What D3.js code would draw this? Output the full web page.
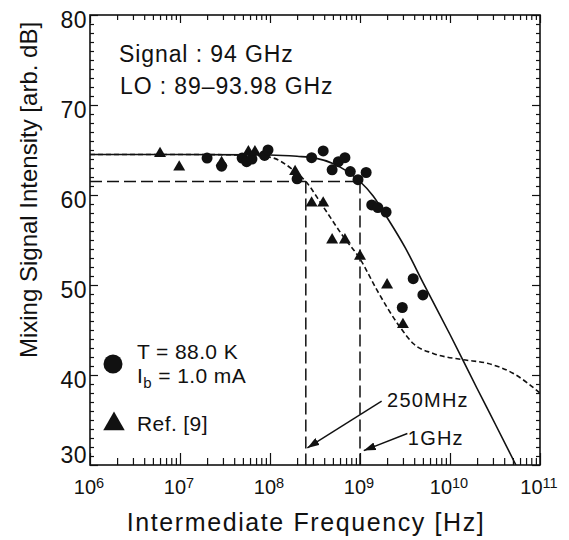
<!DOCTYPE html>
<html><head><meta charset="utf-8">
<script src="https://cdn.jsdelivr.net/npm/d3@7"></script>
<style>
body{margin:0;background:#fff}
svg{display:block}
text{font-family:"Liberation Sans",Arial,Helvetica,sans-serif;fill:#111}
</style>
</head><body>
<svg id="c" width="569" height="540"></svg>
<script>
// ---- data (frequency in Hz, signal in dB) ----
const circleFreq = [2.0e7,2.9e7,4.9e7,5.5e7,6.3e7,8.7e7,9.5e7,2.0e8,2.9e8,3.9e8,4.9e8,5.75e8,6.8e8,7.8e8,9.5e8,1.17e9,1.35e9,1.58e9,1.95e9,2.95e9,3.9e9,5.0e9];
const circleDB   = [64.1,63.2,64.1,63.7,64.0,64.4,65.0,61.8,64.15,64.9,62.8,63.7,64.15,62.6,61.7,62.5,58.9,58.6,58.1,47.5,50.7,48.9];
const triFreq = [6.0e6,9.8e6,2.9e7,5.75e7,6.8e7,1.9e8,2.9e8,3.9e8,4.9e8,6.8e8,1.0e9,2.0e9,3.0e9];
const triDB   = [64.6,63.1,63.6,64.8,64.8,62.6,59.1,59.1,55.0,55.0,53.2,50.0,45.6];
const solidFreq = [1e6,1e7,1e8,2e8,3.2e8,5e8,7e8,1e9,1.4e9,2e9,3.2e9,5e9,1e10,2e10,3.2e10,5.4e10];
const solidDB   = [64.5,64.5,64.45,64.3,64.1,63.5,62.7,61.5,59.9,57.5,54.1,50.3,44.5,38.5,34.5,30.0];
const dashFreq = [1e6,1e7,5e7,1e8,1.8e8,2.5e8,3.9e8,6.5e8,1e9,1.55e9,2.75e9,3.9e9,6.5e9,1.4e10,2.6e10,5e10,1e11];
const dashDB   = [64.5,64.5,64.45,64.2,62.8,61.5,58.7,55.4,52.9,49.4,45.4,43.5,42.4,41.7,41.3,40.2,38.0];
const cutoffFreq = [2.5e8,1e9];
const cutoffDB = 61.5;
const xTickExps = [6,7,8,9,10,11];
const yTicks = [30,40,50,60,70,80];
const arrowLabels = ["250MHz","1GHz"];
const arrowFrom = [[1.74e9,37.1],[3.36e9,33.5]];
const arrowTo   = [[2.6e8,31.9],[1.1e9,31.6]];
const arrowText = [[2.0e9,36.4],[3.4e9,32.2]];

// ---- scales ----
const svg = d3.select("#c");
const x = d3.scaleLog().domain([1e6,1e11]).range([90,540]);
const y = d3.scaleLinear().domain([30,80]).range([465,15]);

svg.append("defs").append("clipPath").attr("id","clip")
  .append("rect").attr("x",90).attr("y",15).attr("width",450).attr("height",450);
const mk = svg.select("defs").append("marker").attr("id","arr")
  .attr("viewBox","0 0 12 8").attr("refX",12).attr("refY",4)
  .attr("markerWidth",12).attr("markerHeight",8).attr("markerUnits","userSpaceOnUse")
  .attr("orient","auto");
mk.append("path").attr("d","M0,0L12,4L0,8Z").attr("fill","#111");

// ---- axes ----
const minorX = [];
for (let e=6;e<11;e++) for (let m=2;m<=9;m++) minorX.push(m*Math.pow(10,e));
const majorX = xTickExps.map(e=>Math.pow(10,e));
const minorY = d3.range(30,81,1).filter(v=>v%10!==0);

function styleAxis(g){ g.select(".domain").remove(); g.selectAll("line").attr("stroke","#111").attr("stroke-width",1.2); }
svg.append("g").attr("transform","translate(0,465)").call(d3.axisBottom(x).tickValues(minorX).tickSize(-7).tickFormat("")).call(styleAxis);
svg.append("g").attr("transform","translate(0,465)").call(d3.axisBottom(x).tickValues(majorX).tickSize(-12).tickFormat("")).call(styleAxis);
svg.append("g").attr("transform","translate(0,15)").call(d3.axisTop(x).tickValues(minorX).tickSize(-5).tickFormat("")).call(styleAxis);
svg.append("g").attr("transform","translate(0,15)").call(d3.axisTop(x).tickValues(majorX).tickSize(-8).tickFormat("")).call(styleAxis);
svg.append("g").attr("transform","translate(90,0)").call(d3.axisLeft(y).tickValues(minorY).tickSize(-4).tickFormat("")).call(styleAxis);
svg.append("g").attr("transform","translate(90,0)").call(d3.axisLeft(y).tickValues(yTicks).tickSize(-8).tickFormat("")).call(styleAxis);
svg.append("g").attr("transform","translate(540,0)").call(d3.axisRight(y).tickValues(minorY).tickSize(-4).tickFormat("")).call(styleAxis);
svg.append("g").attr("transform","translate(540,0)").call(d3.axisRight(y).tickValues(yTicks).tickSize(-8).tickFormat("")).call(styleAxis);

svg.append("rect").attr("x",90).attr("y",15).attr("width",450).attr("height",450)
  .attr("fill","none").attr("stroke","#111").attr("stroke-width",1.6);

// tick labels
svg.selectAll(".yl").data(yTicks).enter().append("text")
  .attr("x",87).attr("y",d=>y(d)+(d===30?-2:13)).attr("text-anchor","end")
  .attr("font-size",23).attr("letter-spacing",0.5).text(d=>d);
const xl = svg.selectAll(".xl").data(xTickExps).enter().append("text")
  .attr("x",e=>x(Math.pow(10,e))-1).attr("y",494).attr("text-anchor","middle").attr("font-size",20);
xl.append("tspan").text("10");
xl.append("tspan").attr("dy",-6).attr("font-size",14.5).text(e=>e);

// axis titles
svg.append("text").attr("x",306).attr("y",531).attr("text-anchor","middle")
  .attr("font-size",25).attr("letter-spacing",1.6).text("Intermediate Frequency [Hz]");
svg.append("text").attr("transform","translate(37,190) rotate(-90)").attr("text-anchor","middle")
  .attr("font-size",24).text("Mixing Signal Intensity [arb. dB]");

// ---- reference (cutoff) lines ----
const ref = svg.append("g").attr("stroke","#111").attr("stroke-width",1.5).attr("stroke-dasharray","12,5").attr("fill","none");
ref.append("line").attr("x1",x(1e6)).attr("x2",x(cutoffFreq[1])).attr("y1",y(cutoffDB)).attr("y2",y(cutoffDB));
ref.selectAll(".v").data(cutoffFreq).enter().append("line")
  .attr("x1",d=>x(d)).attr("x2",d=>x(d)).attr("y1",y(cutoffDB)).attr("y2",y(30));

// ---- curves ----
const line = d3.line().x(d=>x(d[0])).y(d=>y(d[1])).curve(d3.curveMonotoneX);
const plot = svg.append("g").attr("clip-path","url(#clip)");
plot.append("path").datum(d3.zip(solidFreq,solidDB)).attr("d",line)
  .attr("fill","none").attr("stroke","#111").attr("stroke-width",1.6);
plot.append("path").datum(d3.zip(dashFreq,dashDB)).attr("d",line)
  .attr("fill","none").attr("stroke","#111").attr("stroke-width",1.6).attr("stroke-dasharray","5,3");

// ---- markers ----
plot.selectAll(".c").data(d3.zip(circleFreq,circleDB)).enter().append("circle")
  .attr("cx",d=>x(d[0])).attr("cy",d=>y(d[1])).attr("r",5.5).attr("fill","#111");
const tri = d3.symbol().type(d3.symbolTriangle).size(62);
plot.selectAll(".t").data(d3.zip(triFreq,triDB)).enter().append("path")
  .attr("d",tri).attr("transform",d=>`translate(${x(d[0])},${y(d[1])})`).attr("fill","#111");

// ---- annotations ----
const ann = svg.append("g");
ann.selectAll("line").data(d3.range(arrowLabels.length)).enter().append("line")
  .attr("x1",i=>x(arrowFrom[i][0])).attr("y1",i=>y(arrowFrom[i][1]))
  .attr("x2",i=>x(arrowTo[i][0])).attr("y2",i=>y(arrowTo[i][1]))
  .attr("stroke","#111").attr("stroke-width",1.4).attr("marker-end","url(#arr)");
ann.selectAll("text").data(d3.range(arrowLabels.length)).enter().append("text")
  .attr("x",i=>x(arrowText[i][0])).attr("y",i=>y(arrowText[i][1]))
  .attr("font-size",20).attr("letter-spacing",1.2).text(i=>arrowLabels[i]);

svg.append("text").attr("x",119).attr("y",62).attr("font-size",23).attr("letter-spacing",0.9).text("Signal : 94 GHz");
svg.append("text").attr("x",120).attr("y",94).attr("font-size",23).attr("letter-spacing",0.9).text("LO : 89\u201393.98 GHz");

// ---- legend ----
svg.append("circle").attr("cx",113).attr("cy",364).attr("r",9.5).attr("fill","#111");
svg.append("text").attr("x",137).attr("y",359).attr("font-size",21).attr("letter-spacing",0.4).text("T = 88.0 K");
const ib = svg.append("text").attr("x",137).attr("y",383).attr("font-size",21).attr("letter-spacing",0.4);
ib.append("tspan").text("I");
ib.append("tspan").attr("dy",5).attr("font-size",15).text("b");
ib.append("tspan").attr("dy",-5).text(" = 1.0 mA");
svg.append("path").attr("d",d3.symbol().type(d3.symbolTriangle).size(200))
  .attr("transform","translate(114,424)").attr("fill","#111");
svg.append("text").attr("x",137).attr("y",431).attr("font-size",21).attr("letter-spacing",0.4).text("Ref. [9]");
</script>
</body></html>
